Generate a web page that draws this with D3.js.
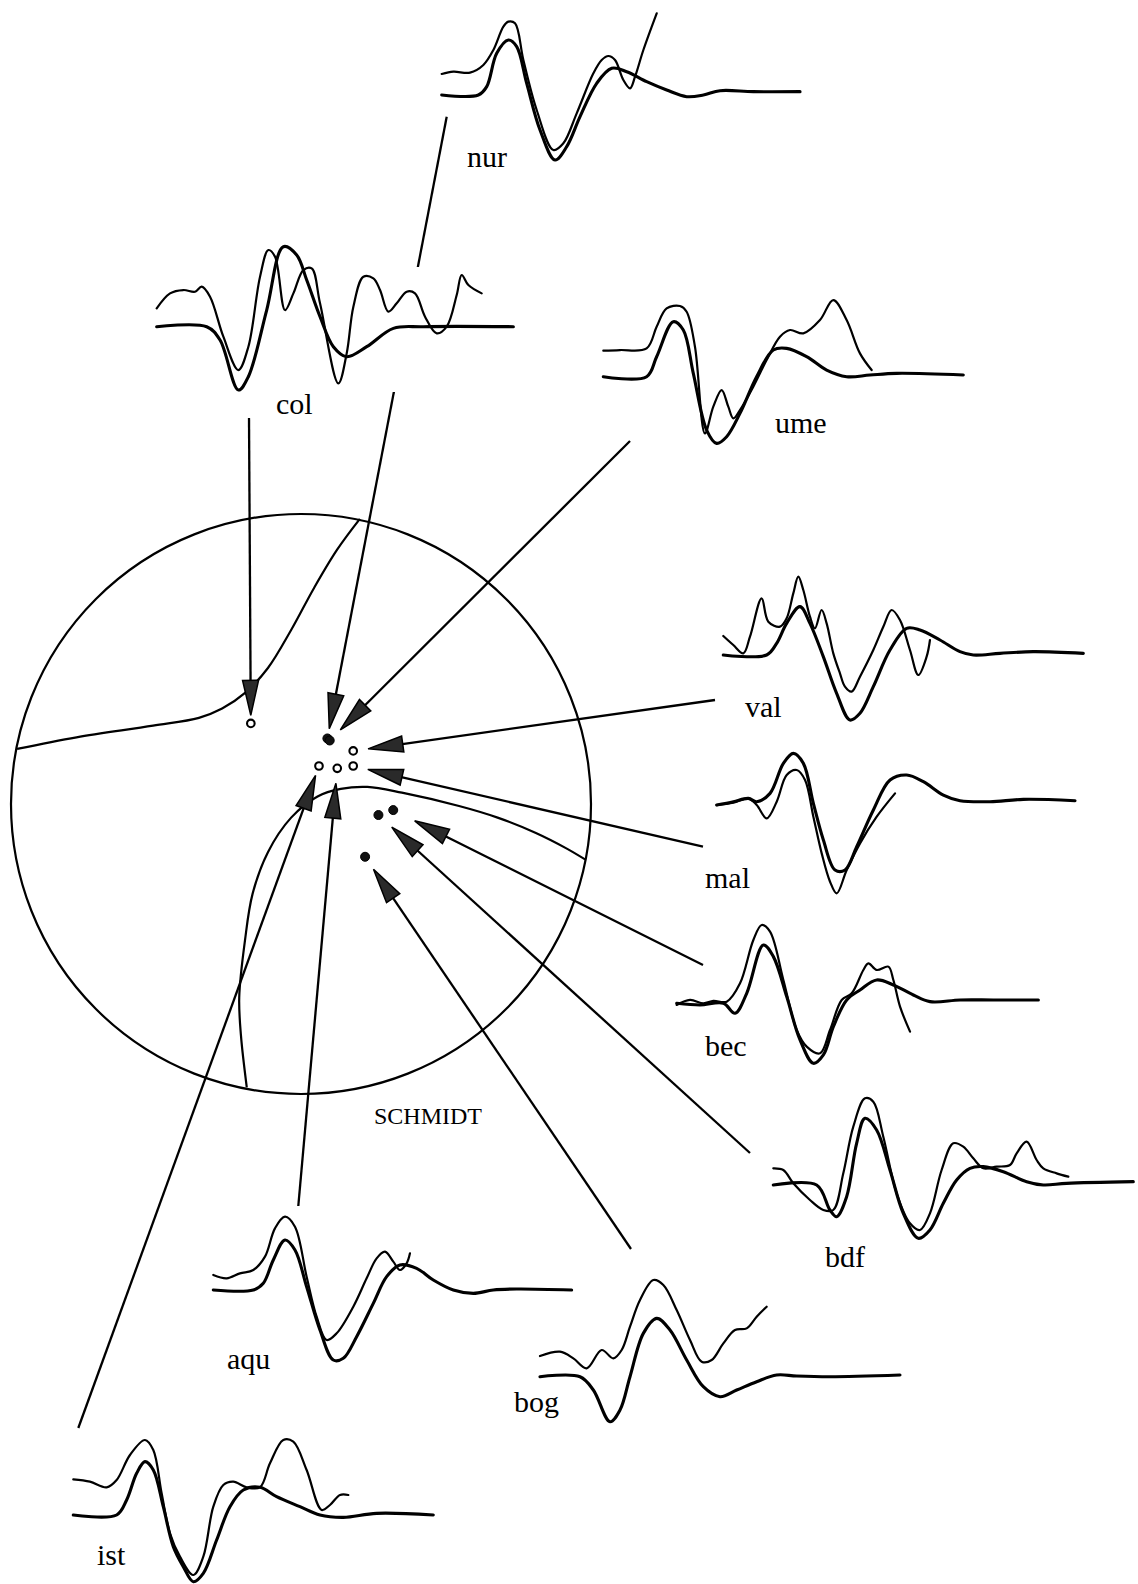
<!DOCTYPE html>
<html><head><meta charset="utf-8">
<script src="https://cdn.jsdelivr.net/npm/d3@7"></script>
<style>html,body{margin:0;padding:0;background:#fff}</style>
</head><body>
<svg id="chart" width="1138" height="1584"></svg>
<script>
// ---------------- DATA ----------------
const stationNames = ["nur","col","ume","val","mal","bec","bdf","aqu","bog","ist"];
// polarity: C = compression (filled), D = dilatation (open)
const stationPolarity = ["C","D","C","D","D","C","C","D","C","D"];
// position on the Schmidt (equal-area) net, unit radius, y up
const stationProjX = [0.091,-0.173,0.099,0.180,0.180,0.318,0.267,0.125,0.221,0.062];
const stationProjY = [0.226, 0.278,0.219,0.183,0.131,-0.021,-0.038,0.123,-0.182,0.131];

// nodal lines (unit radius, y up)
const nodalLineA = [[-0.979,0.190],[-0.774,0.230],[-0.510,0.270],[-0.352,0.297],[-0.272,0.329],[-0.193,0.383],[-0.114,0.469],[-0.034,0.600],[0.045,0.745],[0.124,0.876],[0.203,0.983]];
const nodalLineB = [[-0.187,-0.977],[-0.207,-0.799],[-0.213,-0.667],[-0.193,-0.469],[-0.167,-0.310],[-0.114,-0.166],[-0.034,-0.047],[0.057,0.026],[0.137,0.052],[0.229,0.059],[0.348,0.039],[0.545,-0.007],[0.678,-0.047],[0.810,-0.100],[0.915,-0.153],[0.981,-0.192]];

// waveforms: [time, amplitude] (synthetic = thick, observed = thin)
const nurSynthetic = [[0,0],[110,0],[135,25],[165,125],[200,165],[225,145],[255,35],[295,-105],[340,-195],[375,-155],[415,-65],[465,35],[510,80],[555,70],[615,40],[675,15],[735,-5],[785,0],[835,13],[935,10],[1075,10]];
const nurObserved = [[0,63],[35,70],[85,67],[125,90],[155,135],[185,205],[200,220],[220,215],[245,105],[285,-45],[335,-165],[365,-145],[405,-55],[455,65],[480,105],[500,117],[520,105],[545,45],[565,20],[580,55],[605,135],[645,245]];

const colSynthetic = [[0,0],[150,0],[190,-40],[245,-190],[275,-150],[330,50],[380,240],[420,215],[450,140],[490,30],[530,-60],[570,-90],[630,-60],[710,-5],[800,0],[1070,0]];
const colObserved = [[0,55],[40,100],[80,110],[115,105],[135,120],[160,90],[200,-30],[245,-130],[275,-60],[310,150],[335,230],[355,210],[385,50],[410,100],[440,170],[465,175],[490,70],[545,-170],[570,-80],[590,60],[620,150],[650,145],[670,110],[695,45],[720,70],[750,105],[775,100],[805,30],[840,-20],[870,0],[900,95],[915,155],[935,125],[975,100]];

const umeSynthetic = [[0,0],[130,0],[160,60],[210,165],[240,140],[270,10],[310,-160],[340,-200],[370,-180],[410,-110],[460,0],[510,80],[550,85],[610,60],[670,20],[730,0],[800,5],[880,10],[1080,5]];
const umeObserved = [[0,78],[50,80],[130,85],[160,150],[190,205],[230,212],[250,195],[275,90],[305,-170],[330,-90],[355,-40],[375,-90],[390,-125],[410,-100],[450,-30],[490,50],[530,120],[560,140],[600,130],[650,170],[690,230],[730,170],[770,70],[805,20]];

const valSynthetic = [[0,0],[130,0],[160,35],[190,95],[230,145],[260,95],[300,-5],[340,-115],[380,-195],[410,-175],[450,-95],[500,15],[550,80],[590,75],[650,45],[710,10],[750,0],[830,5],[930,10],[1080,5]];
const valObserved = [[0,57],[30,30],[60,5],[80,55],[115,170],[135,100],[170,85],[190,110],[210,185],[225,235],[240,195],[260,115],[275,80],[295,135],[310,95],[330,5],[350,-55],[365,-95],[385,-110],[410,-65],[450,15],[480,85],[505,135],[530,105],[560,15],[585,-60],[610,-5],[620,45]];

const malSynthetic = [[0,-10],[50,0],[95,10],[120,0],[160,25],[200,115],[230,145],[260,115],[290,-5],[320,-115],[355,-205],[385,-205],[420,-135],[470,-25],[520,65],[570,80],[620,60],[680,20],[730,3],[820,0],[920,7],[1075,3]];
const malObserved = [[0,-10],[50,-3],[95,10],[120,-10],[150,-50],[180,0],[210,80],[240,95],[265,65],[290,-45],[315,-155],[340,-240],[360,-275],[390,-205],[430,-125],[480,-45],[535,25]];

const becSynthetic = [[0,0],[70,-5],[140,0],[175,-30],[210,30],[260,175],[290,140],[330,20],[370,-110],[410,-180],[440,-155],[470,-70],[510,10],[550,40],[600,70],[650,55],[710,25],[760,5],[850,10],[950,10],[1085,10]];
const becObserved = [[0,-5],[40,10],[80,0],[110,7],[150,5],[190,60],[230,190],[255,235],[280,215],[320,70],[360,-80],[390,-130],[430,-150],[460,-80],[495,10],[525,30],[560,100],[575,120],[600,100],[635,110],[650,70],[670,-10],[700,-85]];

const bdfSynthetic = [[0,0],[130,0],[170,-75],[190,-95],[220,-35],[250,125],[275,200],[310,165],[350,45],[390,-85],[435,-160],[470,-135],[510,-55],[550,15],[590,50],[630,55],[690,40],[760,10],[810,0],[880,5],[1080,10]];
const bdfObserved = [[0,50],[30,45],[60,5],[110,-45],[150,-75],[180,-75],[210,35],[240,175],[275,260],[300,250],[330,145],[370,-25],[410,-115],[440,-135],[470,-85],[505,45],[540,125],[570,115],[600,80],[630,50],[670,55],[710,60],[730,95],[760,130],[790,75],[810,50],[850,35],[885,25]];

const aquSynthetic = [[0,0],[120,0],[150,20],[180,90],[215,150],[245,120],[280,10],[320,-120],[360,-210],[390,-205],[430,-140],[480,-40],[520,40],[560,75],[610,65],[660,30],[720,0],[780,-10],[840,0],[910,3],[1075,0]];
const aquObserved = [[0,45],[40,35],[80,50],[120,60],[155,100],[185,185],[215,220],[245,190],[280,40],[310,-80],[340,-150],[370,-130],[420,-50],[460,35],[490,95],[515,115],[540,85],[560,60],[580,80],[590,110]];

const bogSynthetic = [[0,0],[120,0],[160,-40],[210,-135],[240,-100],[270,0],[310,130],[350,175],[390,140],[440,50],[490,-30],[540,-60],[590,-40],[650,-15],[710,5],[770,2],[870,0],[1080,5]];
const bogObserved = [[0,62],[60,75],[100,55],[140,25],[185,80],[220,55],[245,80],[270,150],[300,230],[340,290],[370,275],[410,200],[450,110],[485,45],[515,50],[550,100],[585,140],[620,145],[650,180],[680,210]];

const istSynthetic = [[0,0],[130,0],[160,45],[190,125],[215,160],[240,135],[270,25],[300,-95],[330,-155],[360,-200],[390,-175],[430,-75],[470,25],[510,75],[560,83],[610,55],[680,25],[740,0],[810,-7],[910,5],[1080,0]];
const istObserved = [[0,107],[50,100],[100,83],[130,105],[170,180],[215,225],[240,195],[265,65],[290,-55],[320,-125],[360,-180],[390,-125],[420,25],[450,90],[480,100],[520,83],[560,83],[590,155],[630,225],[660,220],[700,135],[745,15],[770,30],[800,60],[825,60]];

const projectionLabel = "SCHMIDT";

const synthetic = {nur:nurSynthetic,col:colSynthetic,ume:umeSynthetic,val:valSynthetic,mal:malSynthetic,bec:becSynthetic,bdf:bdfSynthetic,aqu:aquSynthetic,bog:bogSynthetic,ist:istSynthetic};
const observed = {nur:nurObserved,col:colObserved,ume:umeObserved,val:valObserved,mal:malObserved,bec:becObserved,bdf:bdfObserved,aqu:aquObserved,bog:bogObserved,ist:istObserved};

// ---------------- LAYOUT ----------------
const net = {cx:301, cy:804, r:290};
const layout = {
  nur:{origin:[441.7,95],   label:[467,167],  from:[446.7,116.7], gap:10},
  col:{origin:[156.7,326.7],label:[276,414],  from:[249,418],     gap:8, mask:[150,267,525,392]},
  ume:{origin:[603.3,376.7],label:[775,433],  from:[630,441],     gap:15},
  val:{origin:[723.3,655],  label:[745,717],  from:[715,700],     gap:15},
  mal:{origin:[716.7,801.7],label:[705,888],  from:[703,846.7],   gap:15},
  bec:{origin:[676.7,1003.3],label:[705,1056],from:[703,965],     gap:24},
  bdf:{origin:[773.3,1185], label:[825,1267], from:[750,1153],    gap:18},
  aqu:{origin:[213.3,1290], label:[227,1369], from:[298.3,1206],  gap:15},
  bog:{origin:[540,1376.7], label:[514,1412], from:[631,1249],    gap:15},
  ist:{origin:[73.3,1515],  label:[97,1565],  from:[78.3,1428],   gap:10}
};

// ---------------- DRAW ----------------
const svg = d3.select("#chart");
svg.append("rect").attr("width",1138).attr("height",1584).attr("fill","#fff");

const sx = d3.scaleLinear().domain([-1,1]).range([net.cx-net.r, net.cx+net.r]);
const sy = d3.scaleLinear().domain([-1,1]).range([net.cy+net.r, net.cy-net.r]);

// primitive circle
svg.append("circle").attr("cx",sx(0)).attr("cy",sy(0)).attr("r",sx(1)-sx(0))
  .attr("fill","none").attr("stroke","#000").attr("stroke-width",2.2);

const nodal = d3.line().x(d=>sx(d[0])).y(d=>sy(d[1])).curve(d3.curveCatmullRom);
[nodalLineA,nodalLineB].forEach(l=>{
  svg.append("path").attr("d",nodal(l)).attr("fill","none").attr("stroke","#000").attr("stroke-width",2.2);
});

// arrows
const AL = 35, AW = 8;
stationNames.forEach((s,i)=>{
  const L = layout[s];
  const tx = sx(stationProjX[i]), ty = sy(stationProjY[i]);
  const dx = tx-L.from[0], dy = ty-L.from[1];
  const len = Math.hypot(dx,dy), ux = dx/len, uy = dy/len;
  const tipX = tx-ux*L.gap, tipY = ty-uy*L.gap;
  const bx = tipX-ux*AL, by = tipY-uy*AL;
  svg.append("line").attr("x1",L.from[0]).attr("y1",L.from[1]).attr("x2",bx+ux*4).attr("y2",by+uy*4)
    .attr("stroke","#000").attr("stroke-width",2.3);
  svg.append("path")
    .attr("d",`M${tipX},${tipY}L${bx-uy*AW},${by+ux*AW}L${bx+uy*AW},${by-ux*AW}Z`)
    .attr("fill","#2a2a2a").attr("stroke","#000").attr("stroke-width",1.5).attr("stroke-linejoin","miter");
});

// polarity points
stationNames.forEach((s,i)=>{
  const c = stationPolarity[i]==="C";
  svg.append("circle").attr("cx",sx(stationProjX[i])).attr("cy",sy(stationProjY[i]))
    .attr("r",c?4.5:3.8).attr("fill",c?"#111":"#fff").attr("stroke","#000").attr("stroke-width",c?1:2.1);
});

// waveforms
const tScale = d3.scaleLinear().domain([0,300]).range([0,100]);
const aScale = d3.scaleLinear().domain([0,300]).range([0,-100]);
stationNames.forEach(s=>{
  const L = layout[s];
  if (L.mask) {
    svg.append("rect").attr("x",L.mask[0]).attr("y",L.mask[1])
      .attr("width",L.mask[2]-L.mask[0]).attr("height",L.mask[3]-L.mask[1]).attr("fill","#fff");
  }
  const g = svg.append("g").attr("transform",`translate(${L.origin[0]},${L.origin[1]})`);
  const line = d3.line().x(d=>tScale(d[0])).y(d=>aScale(d[1])).curve(d3.curveCatmullRom.alpha(0.5));
  g.append("path").attr("d",line(observed[s])).attr("fill","none").attr("stroke","#000")
    .attr("stroke-width",2.2).attr("stroke-linejoin","round").attr("stroke-linecap","round");
  g.append("path").attr("d",line(synthetic[s])).attr("fill","none").attr("stroke","#000")
    .attr("stroke-width",3.1).attr("stroke-linejoin","round").attr("stroke-linecap","round");
  svg.append("text").attr("x",L.label[0]).attr("y",L.label[1]).text(s)
    .attr("font-family","'Liberation Serif','Times New Roman',serif").attr("font-size",30).attr("fill","#000");
});

svg.append("text").attr("x",374).attr("y",1124).text(projectionLabel)
  .attr("font-family","'Liberation Serif','Times New Roman',serif").attr("font-size",24).attr("fill","#000");
</script>
</body></html>
